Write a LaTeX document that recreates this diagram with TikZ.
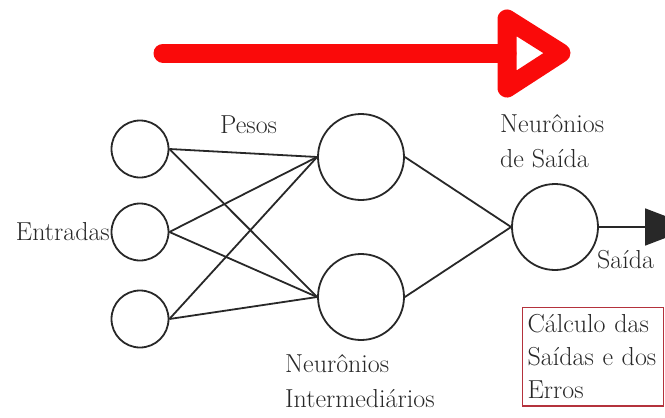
\documentclass[tikz,border=0pt]{standalone}
\usepackage{tikz}
\usepackage{xcolor}
\usetikzlibrary{positioning, arrows.meta}
\definecolor{nnline}{RGB}{40, 40, 40}
\definecolor{nntext}{RGB}{40, 40, 40}
\definecolor{nnred}{RGB}{250, 10, 10}
\definecolor{nnbox}{RGB}{180, 50, 60}
\tikzset{
    neuron/.style={circle, draw=nnline, line width=1.8pt, inner sep=0pt},
    inneuron/.style={neuron, minimum size=57pt},
    hidneuron/.style={neuron, minimum size=86pt},
    outneuron/.style={neuron, minimum size=86pt},
    synapse/.style={draw=nnline, line width=1.8pt},
    lbl/.style={text=nntext, inner sep=0pt, align=left, font=\fontsize{26}{35}\selectfont}
}

\begin{document}
\begin{tikzpicture}[x=1pt, y=-1pt]
    \useasboundingbox (0,0) rectangle (665,418);
    % neurons
    \node[inneuron] (i1) at (140,149) {};
    \node[inneuron] (i2) at (140,232) {};
    \node[inneuron] (i3) at (140,319) {};
    \node[hidneuron] (h1) at (361,157) {};
    \node[hidneuron] (h2) at (361,297) {};
    \node[outneuron] (o) at (555,227) {};
    \coordinate (oend) at (694,227);
    % weights
    \foreach \i in {i1, i2, i3} {
        \draw[synapse] (\i.east) -- (h1.west);
        \draw[synapse] (\i.east) -- (h2.west);
    }
    \draw[synapse] (h1.east) -- (o.west);
    \draw[synapse] (h2.east) -- (o.west);
    \draw[synapse, -{Triangle[length=49pt, width=37pt]}] (o.east) -- (oend);
    % labels
    \node[lbl, anchor=base east] (entr) at (110,240) {Entradas};
    \node[lbl, anchor=base west] (pesos) at (220,133) {Pesos};
    \node[lbl, anchor=north west] (nsai) at (500,114) {Neurônios\\de Saída};
    \node[lbl, anchor=north west] (nint) at (285,354) {Neurônios\\Intermediários};
    \node[lbl, anchor=base west] (sai) at (597,268) {Saída};
    \node[lbl, draw=nnbox, line width=1.2pt, anchor=north west, inner xsep=5pt, inner ysep=7pt,
          text width=131pt, font=\fontsize{26}{33}\selectfont] (calc) at (522,307)
          {Cálculo das\\Saídas e dos\\Erros};
    % direction of computation
    \coordinate (fwd) at (163,53);
    \coordinate (ta) at (507,19);
    \coordinate (tb) at (507,88);
    \coordinate (tc) at (561,53);
    \draw[nnred, line width=19pt, line cap=round] (fwd) -- (ta |- fwd);
    \draw[nnred, line width=19pt, line join=round] (ta) -- (tc) -- (tb) -- cycle;
\end{tikzpicture}
\end{document}
